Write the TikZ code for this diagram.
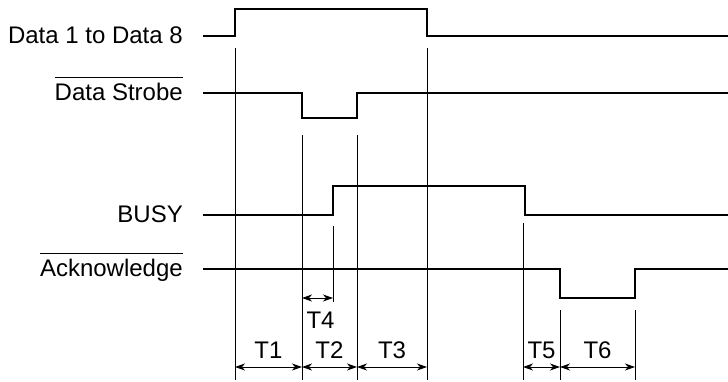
\documentclass[tikz,border=0pt]{standalone}
\usepackage{fontspec}
\setmainfont{Liberation Sans}
\usetikzlibrary{arrows.meta, positioning}

% active-low signal name
\newcommand{\lowsig}[1]{\vbox{\hrule height 0.9pt\kern 5pt\hbox{#1}}}

\begin{document}
\begin{tikzpicture}[x=1pt, y=-1pt,
    siglabel/.style={anchor=base east, inner sep=0pt, font=\fontsize{24}{27}\selectfont},
    timelabel/.style={inner sep=0pt, font=\fontsize{24}{27}\selectfont},
    signal/.style={line width=2.3pt},
    guide/.style={line width=0.9pt},
    dimarrow/.style={{Stealth[length=10pt,width=7pt,inset=3pt]}-{Stealth[length=10pt,width=7pt,inset=3pt]}, line width=0.9pt}
]
\useasboundingbox (0,0) rectangle (728,382);

% Signal names
\node[siglabel] (data) at (183,43.5) {Data 1 to Data 8};
\node[siglabel] (strobe) at (183,100.5) {\lowsig{Data Strobe}};
\node[siglabel] (busy) at (183,222.5) {BUSY};
\node[siglabel] (ack) at (183,276.5) {\lowsig{Acknowledge}};

% Waveforms
\draw[signal] (203,36) -- (235,36) -- (235,9) -- (427,9) -- (427,36) -- (728,36);
\draw[signal] (203,93) -- (302,93) -- (302,118) -- (357,118) -- (357,93) -- (728,93);
\draw[signal] (203,215) -- (333,215) -- (333,186) -- (525,186) -- (525,215) -- (728,215);
\draw[signal] (203,269) -- (560,269) -- (560,298) -- (635,298) -- (635,269) -- (728,269);

% Guide lines
\foreach \x/\top in {235/48, 427/48, 302/135, 357/135, 523/223, 560/310, 635/310} {
    \draw[guide] (\x,\top) -- (\x,380);
}
\draw[guide] (333,226) -- (333,302);

% Time marks
\foreach \n/\x in {1/235, 2/302, 3/357, 4/427, 5/523, 6/560, 7/635} {
    \coordinate (m\n) at (\x,367);
}
\coordinate (s4) at (302,298);
\coordinate (e4) at (333,298);

% Timings
\draw[dimarrow] (m1) -- node[timelabel, above=8pt] (t1) {T1} (m2);
\draw[dimarrow] (m2) -- node[timelabel, above=8pt] (t2) {T2} (m3);
\draw[dimarrow] (m3) -- node[timelabel, above=8pt] (t3) {T3} (m4);
\draw[dimarrow] (s4) -- node[timelabel, below=14pt, xshift=3pt] (t4) {T4} (e4);
\draw[dimarrow] (m5) -- node[timelabel, above=8pt] (t5) {T5} (m6);
\draw[dimarrow] (m6) -- node[timelabel, above=8pt] (t6) {T6} (m7);

\end{tikzpicture}
\end{document}
